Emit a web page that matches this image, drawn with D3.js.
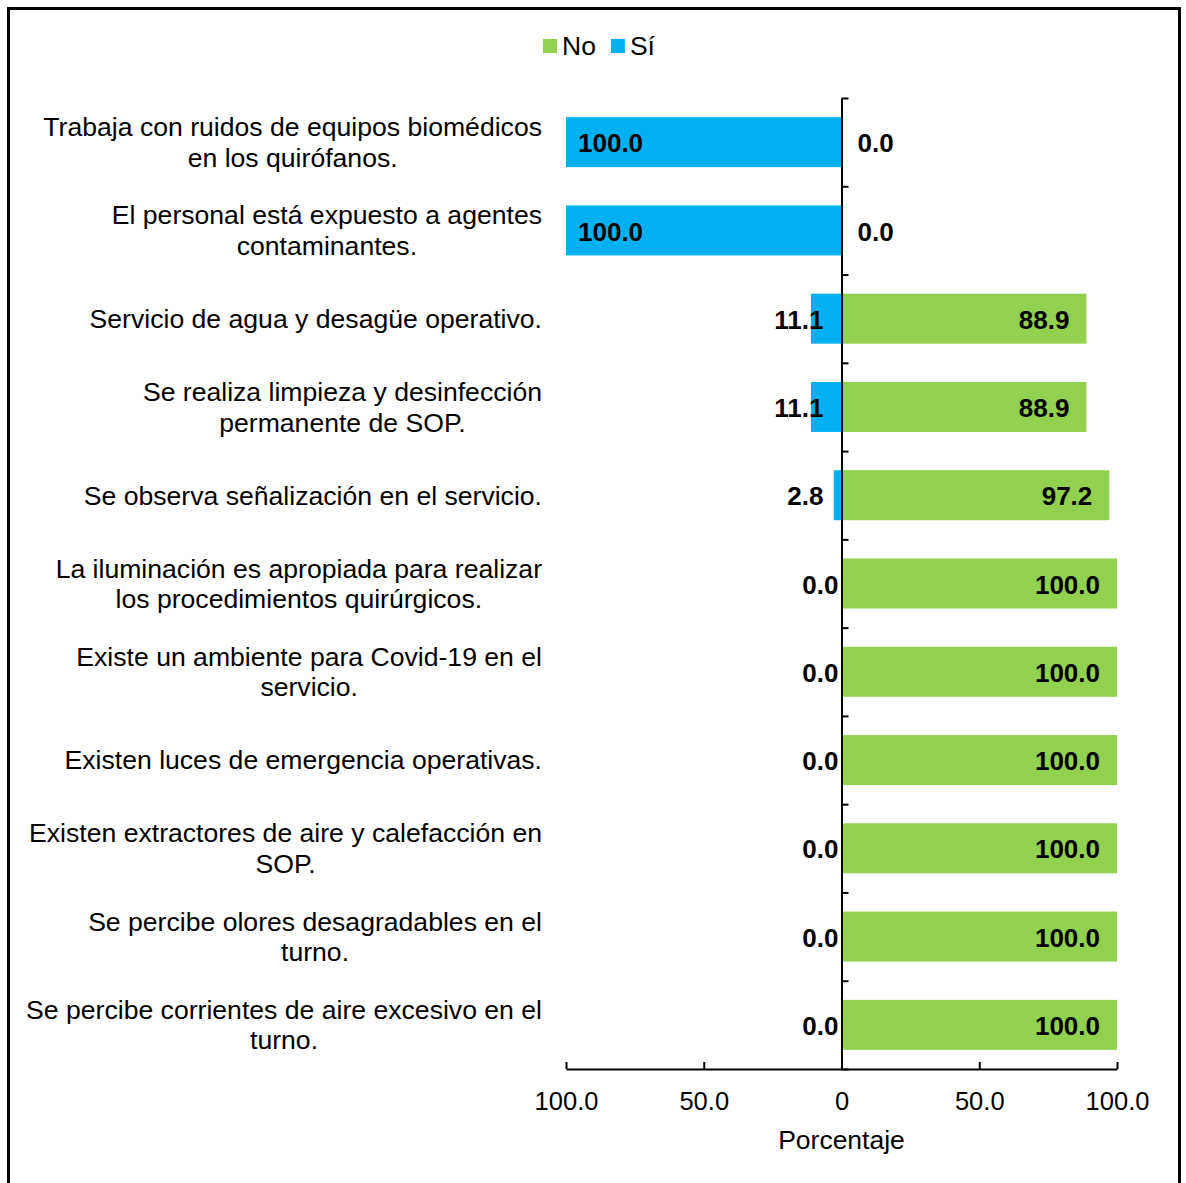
<!DOCTYPE html>
<html>
<head>
<meta charset="utf-8">
<script src="https://cdn.jsdelivr.net/npm/d3@7/dist/d3.min.js"></script>
<style>
  html, body { margin: 0; padding: 0; background: #fff; }
  svg { display: block; font-family: "Liberation Sans", Arial, sans-serif; }
</style>
</head>
<body>
<svg id="chart" width="1186" height="1183"></svg>
<script>
// Survey items (line breaks mark where each label wraps)
const categories = [
  "Trabaja con ruidos de equipos biomédicos\nen los quirófanos.",
  "El personal está expuesto a agentes\ncontaminantes.",
  "Servicio de agua y desagüe operativo.",
  "Se realiza limpieza y desinfección\npermanente de SOP.",
  "Se observa señalización en el servicio.",
  "La iluminación es apropiada para realizar\nlos procedimientos quirúrgicos.",
  "Existe un ambiente para Covid-19 en el\nservicio.",
  "Existen luces de emergencia operativas.",
  "Existen extractores de aire y calefacción en\nSOP.",
  "Se percibe olores desagradables en el\nturno.",
  "Se percibe corrientes de aire excesivo en el\nturno."
];
const siValues = [100.0, 100.0, 11.1, 11.1, 2.8, 0.0, 0.0, 0.0, 0.0, 0.0, 0.0];
const noValues = [0.0, 0.0, 88.9, 88.9, 97.2, 100.0, 100.0, 100.0, 100.0, 100.0, 100.0];
const seriesNames = ["No", "Sí"];
const tickValues = [-100, -50, 0, 50, 100];
const tickLabels = ["100.0", "50.0", "0", "50.0", "100.0"];
const axisTitle = "Porcentaje";

const colors = { "No": "#92D050", "Sí": "#00B0F0" };

const svg = d3.select("#chart");

// Outer frame
svg.append("rect")
  .attr("x", 8.5).attr("y", 8.5)
  .attr("width", 1171).attr("height", 1190)
  .attr("fill", "none").attr("stroke", "#000").attr("stroke-width", 3);

const x = d3.scaleLinear().domain([-100, 100]).range([566, 1117]);
const y = d3.scaleBand()
  .domain(d3.range(categories.length))
  .range([98, 1069])
  .paddingInner(0.434)
  .paddingOuter(0.217);
const yEdges = d3.scaleLinear().domain([0, categories.length]).range([98, 1069]);

const plot = svg.append("g");

// Sí bars extend to the left of zero
plot.selectAll("rect.si").data(siValues).join("rect")
  .attr("class", "si")
  .attr("x", d => x(-d))
  .attr("y", (d, i) => y(i))
  .attr("width", d => x(0) - x(-d))
  .attr("height", y.bandwidth())
  .attr("fill", colors["Sí"]);

// No bars extend to the right of zero
plot.selectAll("rect.no").data(noValues).join("rect")
  .attr("class", "no")
  .attr("x", x(0))
  .attr("y", (d, i) => y(i))
  .attr("width", d => x(d) - x(0))
  .attr("height", y.bandwidth())
  .attr("fill", colors["No"]);

// Bottom axis with ticks pointing up
const xAxis = d3.axisBottom(x)
  .tickValues(tickValues)
  .tickFormat((d, i) => tickLabels[i])
  .tickSizeInner(-7)
  .tickSizeOuter(0)
  .tickPadding(23);
const gx = svg.append("g").attr("transform", "translate(0,1069)").call(xAxis);
gx.select(".domain").attr("stroke", "#000").attr("stroke-width", 2);
gx.selectAll(".tick line").attr("stroke", "#000").attr("stroke-width", 2);
gx.selectAll(".tick text").attr("font-size", 25.5).attr("fill", "#000")
  .attr("font-family", "Liberation Sans, Arial, sans-serif");

// Category axis at zero with ticks between rows
const yAxis = d3.axisRight(yEdges)
  .tickValues(d3.range(categories.length + 1))
  .tickFormat("")
  .tickSizeInner(7)
  .tickSizeOuter(0);
const gy = svg.append("g").attr("transform", `translate(${x(0)},0)`).call(yAxis);
gy.select(".domain").attr("stroke", "#000").attr("stroke-width", 2);
gy.selectAll(".tick line").attr("stroke", "#000").attr("stroke-width", 2);

// Axis title
svg.append("text")
  .attr("x", x(0)).attr("y", 1149)
  .attr("text-anchor", "middle")
  .attr("font-size", 26.5).attr("fill", "#000")
  .text(axisTitle);

// Category labels: centred lines, block right-aligned to the plot
const labelRight = 542;
const lineH = 30.5;
categories.forEach((cat, i) => {
  const lines = cat.split("\n");
  const g = svg.append("g");
  const texts = lines.map((ln, j) => g.append("text")
    .attr("font-size", 26.6).attr("fill", "#000")
    .attr("text-anchor", "middle")
    .attr("y", y(i) + y.bandwidth() / 2 + (j - (lines.length - 1) / 2) * lineH)
    .attr("dy", "0.35em")
    .text(ln));
  const maxW = d3.max(texts, t => t.node().getComputedTextLength());
  texts.forEach(t => t.attr("x", labelRight - maxW / 2));
});

// Value labels
const fmt = d3.format(".1f");
plot.selectAll("text.siLab").data(siValues).join("text")
  .attr("class", "siLab")
  .attr("font-size", 26).attr("font-weight", "bold").attr("fill", "#000")
  .attr("dy", "0.35em")
  .attr("y", (d, i) => y(i) + y.bandwidth() / 2 + 1)
  .attr("text-anchor", d => d >= 50 ? "start" : "end")
  .attr("x", d => d >= 50 ? x(-d) + 12 : (d > 0 ? x(0) - 18 : x(0) - 3))
  .text(d => fmt(d));

plot.selectAll("text.noLab").data(noValues).join("text")
  .attr("class", "noLab")
  .attr("font-size", 26).attr("font-weight", "bold").attr("fill", "#000")
  .attr("dy", "0.35em")
  .attr("y", (d, i) => y(i) + y.bandwidth() / 2 + 1)
  .attr("text-anchor", d => d > 0 ? "end" : "start")
  .attr("x", d => d > 0 ? x(d) - 17 : x(0) + 16)
  .text(d => fmt(d));

// Legend
const legend = svg.append("g").attr("transform", "translate(543,46)");
let lx = 0;
seriesNames.forEach(name => {
  const item = legend.append("g").attr("transform", `translate(${lx},0)`);
  item.append("rect").attr("x", 0).attr("y", -7).attr("width", 14).attr("height", 14)
    .attr("fill", colors[name]);
  const t = item.append("text").attr("x", 19).attr("dy", "0.35em")
    .attr("font-size", 26.5).attr("fill", "#000").text(name);
  lx += 19 + t.node().getComputedTextLength() + 15;
});
</script>
</body>
</html>
